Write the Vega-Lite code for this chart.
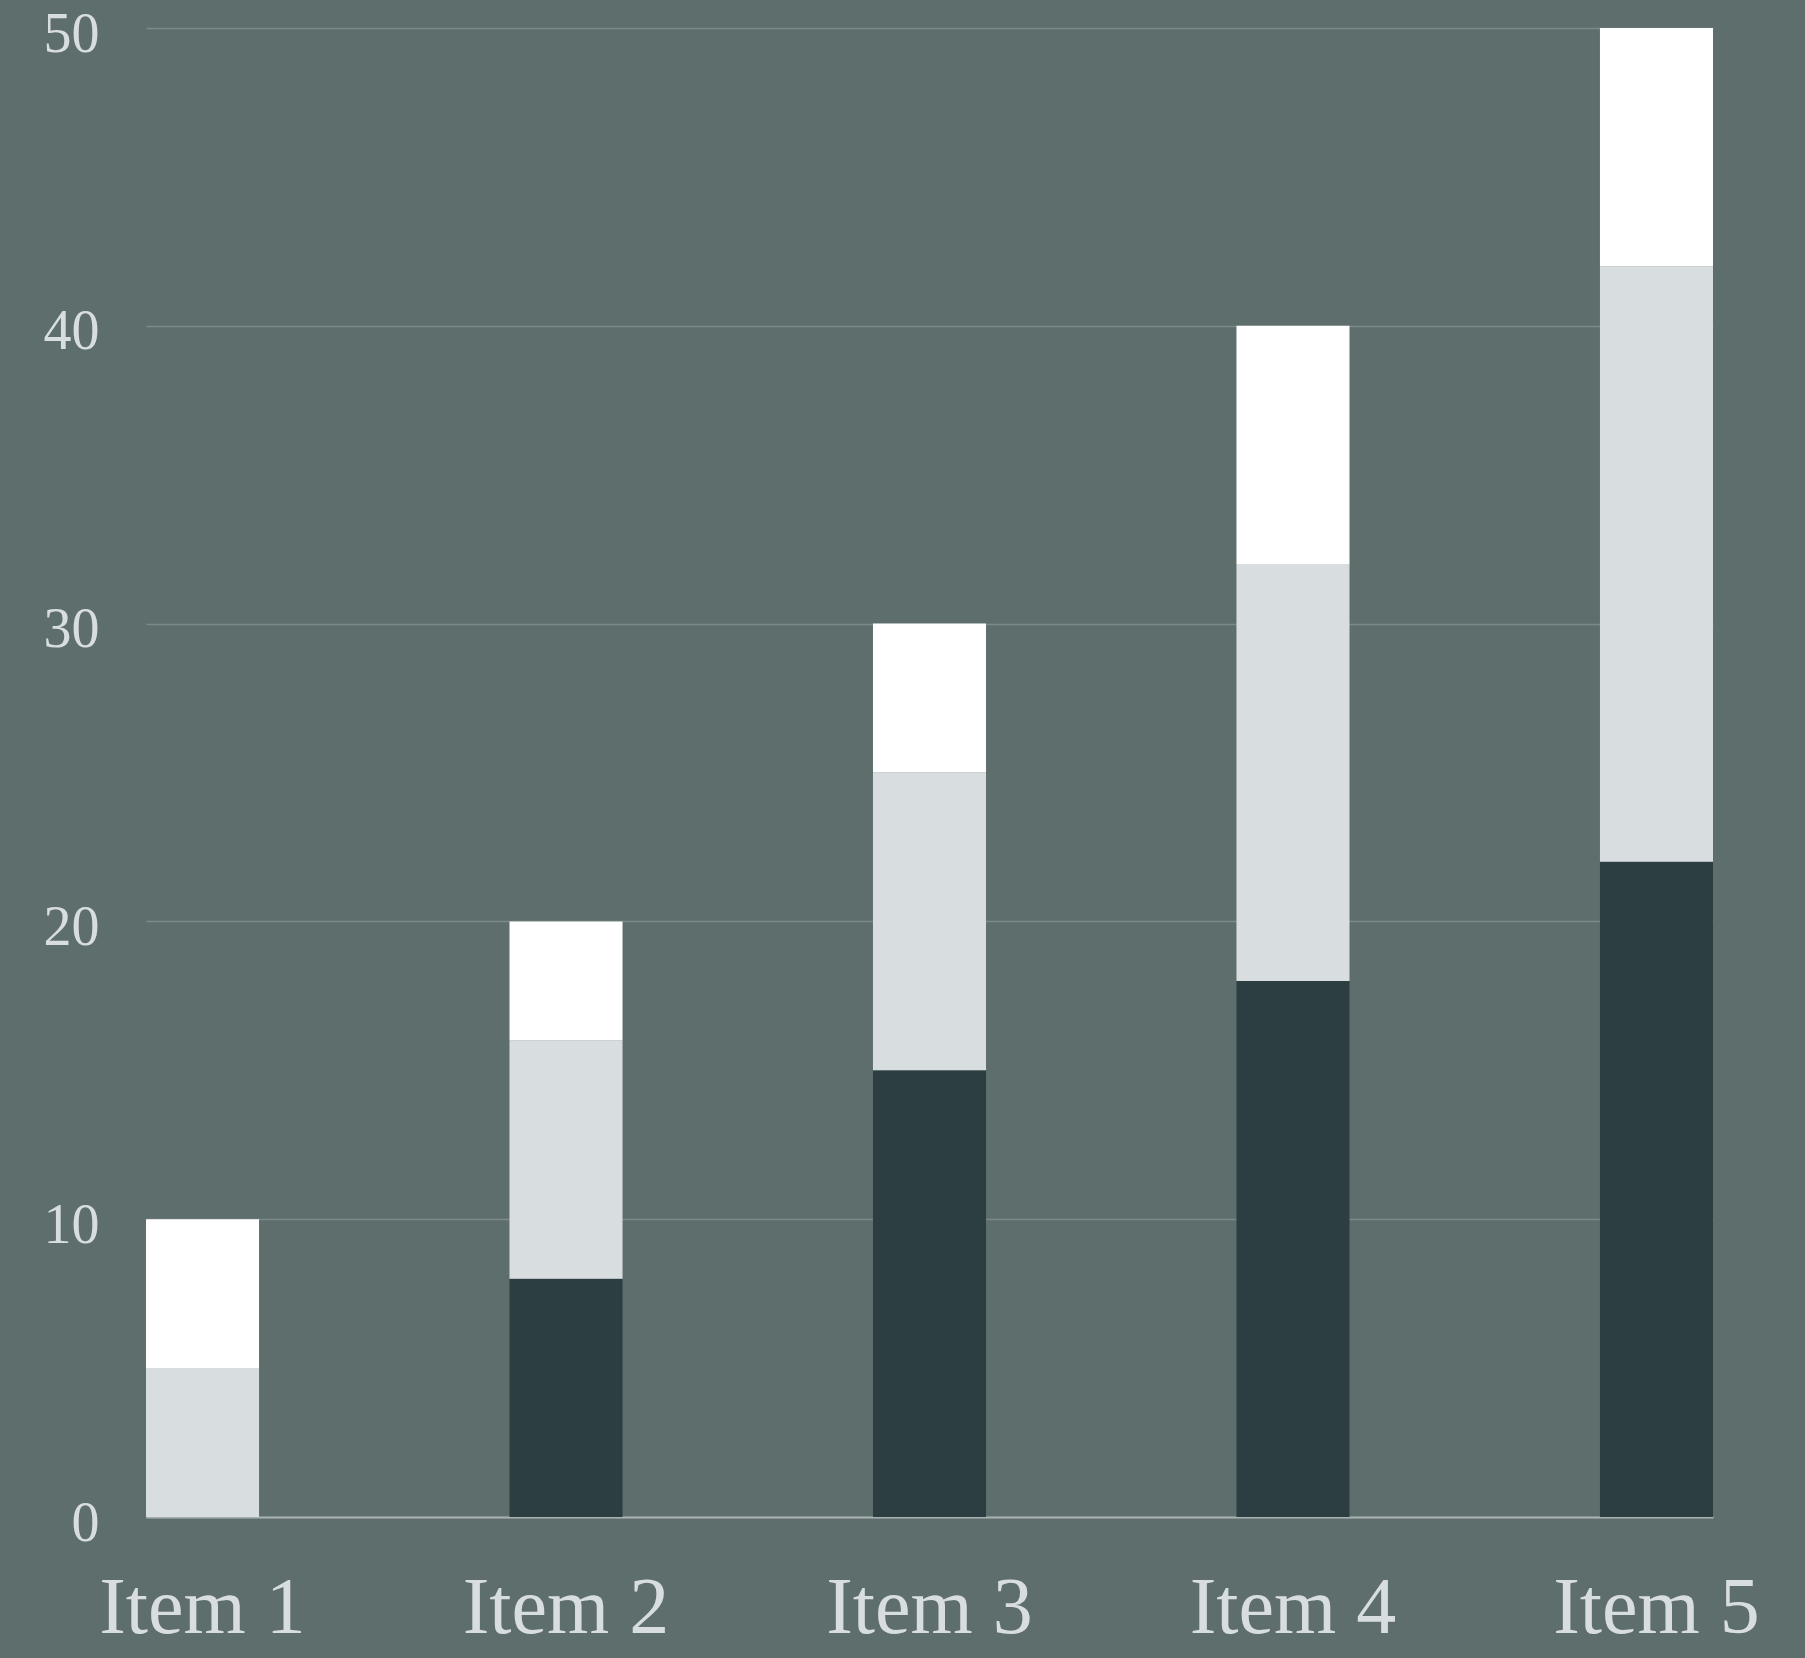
{
  "$schema": "https://vega.github.io/schema/vega-lite/v6.json",
  "autosize": "none",
  "width": 1567,
  "height": 1489,
  "padding": {"left": 146, "top": 28, "right": 92, "bottom": 141},
  "background": "#5e6e6d",
  "config": {
    "view": {"stroke": null},
    "font": "Liberation Serif"
  },
  "data": {
    "values": [
      {"item": "Item 1", "series": "A", "ord": 1, "value": 0},
      {"item": "Item 1", "series": "B", "ord": 2, "value": 5},
      {"item": "Item 1", "series": "C", "ord": 3, "value": 5},
      {"item": "Item 2", "series": "A", "ord": 1, "value": 8},
      {"item": "Item 2", "series": "B", "ord": 2, "value": 8},
      {"item": "Item 2", "series": "C", "ord": 3, "value": 4},
      {"item": "Item 3", "series": "A", "ord": 1, "value": 15},
      {"item": "Item 3", "series": "B", "ord": 2, "value": 10},
      {"item": "Item 3", "series": "C", "ord": 3, "value": 5},
      {"item": "Item 4", "series": "A", "ord": 1, "value": 18},
      {"item": "Item 4", "series": "B", "ord": 2, "value": 14},
      {"item": "Item 4", "series": "C", "ord": 3, "value": 8},
      {"item": "Item 5", "series": "A", "ord": 1, "value": 22},
      {"item": "Item 5", "series": "B", "ord": 2, "value": 20},
      {"item": "Item 5", "series": "C", "ord": 3, "value": 8}
    ]
  },
  "mark": {"type": "bar"},
  "encoding": {
    "x": {
      "field": "item",
      "type": "nominal",
      "sort": null,
      "scale": {"paddingInner": 0.689, "paddingOuter": 0},
      "axis": {
        "title": null,
        "labelAngle": 0,
        "labelFontSize": 80,
        "labelColor": "#d8dde0",
        "labelPadding": 52,
        "labelLimit": 0,
        "ticks": false,
        "domain": true,
        "domainColor": "#a8b2b2",
        "domainWidth": 2,
        "grid": false
      }
    },
    "y": {
      "field": "value",
      "type": "quantitative",
      "stack": "zero",
      "scale": {"domain": [0, 50], "nice": false},
      "axis": {
        "title": null,
        "values": [0, 10, 20, 30, 40, 50],
        "labelFontSize": 56,
        "labelColor": "#d8dde0",
        "labelPadding": 47,
        "labelOffset": 6,
        "labelLimit": 0,
        "ticks": false,
        "domain": false,
        "grid": true,
        "gridColor": "#7b8a89",
        "gridWidth": 1.5
      }
    },
    "color": {
      "field": "series",
      "type": "nominal",
      "scale": {"domain": ["A", "B", "C"], "range": ["#2d3e42", "#d8dde0", "#ffffff"]},
      "legend": null
    },
    "order": {"field": "ord", "type": "quantitative"}
  }
}
